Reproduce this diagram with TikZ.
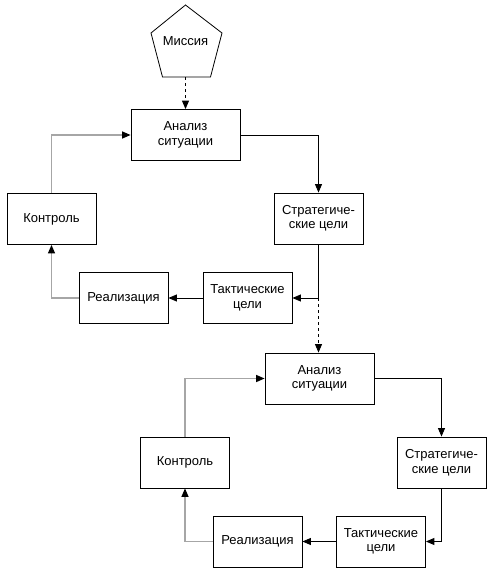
\documentclass[tikz,border=0pt]{standalone}
\usepackage{fontspec}
\setmainfont{Liberation Sans}
\usetikzlibrary{arrows.meta}
\begin{document}
\begin{tikzpicture}[x=1pt,y=-1pt,
  box/.style={draw=black,line width=0.8pt,minimum width=89pt,minimum height=51pt,
    align=center,inner sep=1pt,font=\fontsize{13}{14.5}\selectfont},
  wbox/.style={box,minimum width=109pt},
  conn/.style={line width=0.9pt,-{Triangle[length=8.5pt,width=7pt]}},
  gconn/.style={draw=black!35,line width=1.3pt,-{Triangle[length=8.5pt,width=7pt,color=black]}},
  dconn/.style={line width=0.9pt,dash pattern=on 3pt off 3pt,-{Triangle[length=8.5pt,width=7pt]}}
]
\useasboundingbox (0,0) rectangle (493,576);
% mission pentagon
\draw[line width=0.8pt] (185.5,5) -- (222,33) -- (210.5,77) -- (162.5,77) -- (151,33) -- cycle;
\node[minimum width=71pt,minimum height=72pt,inner sep=0pt,font=\fontsize{13}{14.5}\selectfont] (mis) at (185.5,41) {Миссия};
% top cycle
\node[wbox] (a1) at (185.5,135) {Анализ\\ситуации};
\node[box]  (s1) at (318.5,218.5) {Стратегиче-\\ские цели};
\node[box]  (t1) at (247.5,298) {Тактические\\цели};
\node[box]  (r1) at (123.5,298) {Реализация};
\node[box]  (c1) at (51.5,219) {Контроль};
% bottom cycle
\node[wbox] (a2) at (319.5,378.5) {Анализ\\ситуации};
\node[box]  (s2) at (441.5,462.5) {Стратегиче-\\ские цели};
\node[box]  (t2) at (381,541.5) {Тактические\\цели};
\node[box]  (r2) at (257.5,541.5) {Реализация};
\node[box]  (c2) at (185,462.5) {Контроль};
% connectors top
\draw[dconn] (mis.south) -- (a1.north);
\draw[conn] (a1.east) -| (s1.north);
\draw[conn] (s1.south) |- (t1.east);
\draw[conn] (t1.west) -- (r1.east);
\draw[gconn] (r1.west) -| (c1.south);
\draw[gconn] (c1.north) |- (a1.west);
\coordinate (j1) at (s1.south |- t1.east);
\draw[dconn] (j1) -- (j1 |- a2.north);
% connectors bottom
\draw[conn] (a2.east) -| (s2.north);
\draw[conn] (s2.south) |- (t2.east);
\draw[conn] (t2.west) -- (r2.east);
\draw[gconn] (r2.west) -| (c2.south);
\draw[gconn] (c2.north) |- (a2.west);
\end{tikzpicture}
\end{document}
